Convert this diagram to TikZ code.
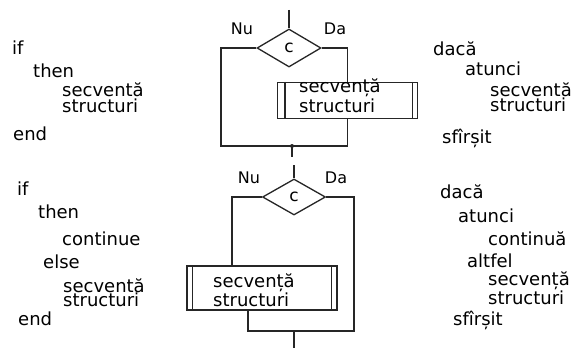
\documentclass[tikz,border=0pt]{standalone}
\usepackage{fontspec}
\setmainfont{DejaVu Sans}
\usetikzlibrary{shapes.geometric}
\begin{document}
\begin{tikzpicture}[x=1pt,y=-1pt,
  ln/.style={line width=1.3pt, draw=black!85},
  txt/.style={anchor=base west, inner sep=0pt, font=\fontsize{18}{15}\selectfont},
  two/.style={anchor=base west, inner sep=0pt, align=left, font=\fontsize{18}{#1}\selectfont},
  two/.default=15,
  lbl/.style={anchor=center, inner sep=0pt, font=\fontsize{16}{18}\selectfont},
  dia/.style={diamond, ln, inner sep=0pt, minimum width=64pt, minimum height=38pt, font=\fontsize{17}{18}\selectfont},
  boxx/.style={rectangle, ln, inner sep=0pt}
]
\useasboundingbox (0,0) rectangle (572,350);
\fill[white] (0,0) rectangle (572,350);

% ---------- top flowchart ----------
\node[dia] (d1) at (289,48) {c};
\node[lbl] (nu1) at (242,29) {Nu};
\node[lbl] (da1) at (335,29) {Da};
\node[boxx, minimum width=140pt, minimum height=36pt] (b1) at (347.5,100.5) {};
\draw[ln] ([xshift=8pt]b1.north west) -- ([xshift=8pt]b1.south west);
\draw[ln] ([xshift=-6pt]b1.north east) -- ([xshift=-6pt]b1.south east);
\node[two] (t1) at (299,112) {secvență\\structuri};
\coordinate (in1) at (289,10);
\coordinate (L1) at (221,146);
\coordinate (R1) at (347.5,146);
\coordinate (j1) at (292,146);
\coordinate (out1) at (292,157);
\draw[ln] (in1) -- (d1.north);
\draw[ln] (d1.west) -| (L1) -- (R1) -- (b1.south);
\draw[ln] (d1.east) -| (b1.north);
\draw[ln] (j1) -- (out1);
\fill[black!85] (j1) circle (2pt);

% ---------- bottom flowchart ----------
\node[dia, minimum width=63pt, minimum height=36pt] (d2) at (294,197) {c};
\node[lbl] (nu2) at (249,178) {Nu};
\node[lbl] (da2) at (336,178) {Da};
\node[boxx, minimum width=150pt, minimum height=44pt] (b2) at (262,288) {};
\draw[ln] ([xshift=6pt]b2.north west) -- ([xshift=6pt]b2.south west);
\draw[ln] ([xshift=-6pt]b2.north east) -- ([xshift=-6pt]b2.south east);
\node[two=19] (t2) at (213,306) {secvență\\structuri};
\coordinate (in2) at (294,165);
\coordinate (L2) at (232,266);
\coordinate (B2) at (248,310);
\coordinate (D2) at (354,331);
\coordinate (j2) at (294,331);
\coordinate (out2) at (294,348);
\draw[ln] (in2) -- (d2.north);
\draw[ln] (d2.west) -| (L2);
\draw[ln] (B2) |- (D2) |- (d2.east);
\draw[ln] (j2) -- (out2);

% ---------- left column ----------
\node[txt] (l1) at (12,55) {if};
\node[txt] (l2) at (33,78) {then};
\node[two] (l3) at (62,112) {secventă\\structuri};
\node[txt] (l5) at (13,140) {end};
\node[txt] (l6) at (17,195) {if};
\node[txt] (l7) at (38,218) {then};
\node[txt] (l8) at (62,245) {continue};
\node[txt] (l9) at (43,268) {else};
\node[two=14] (l10) at (63,306) {secventă\\structuri};
\node[txt] (l12) at (18,325) {end};

% ---------- right column ----------
\node[txt] (r1) at (433,56) {dacă};
\node[txt] (r2) at (465,76) {atunci};
\node[two] (r3) at (490,111) {secventă\\structuri};
\node[txt] (r5) at (442,143) {sfîrșit};
\node[txt] (r6) at (440,198) {dacă};
\node[txt] (r7) at (458,222) {atunci};
\node[txt] (r8) at (488,245) {continuă};
\node[txt] (r9) at (467,267) {altfel};
\node[two=14] (r10) at (488,304) {secvență\\structuri};
\node[txt] (r12) at (453,325) {sfîrșit};
\end{tikzpicture}
\end{document}
